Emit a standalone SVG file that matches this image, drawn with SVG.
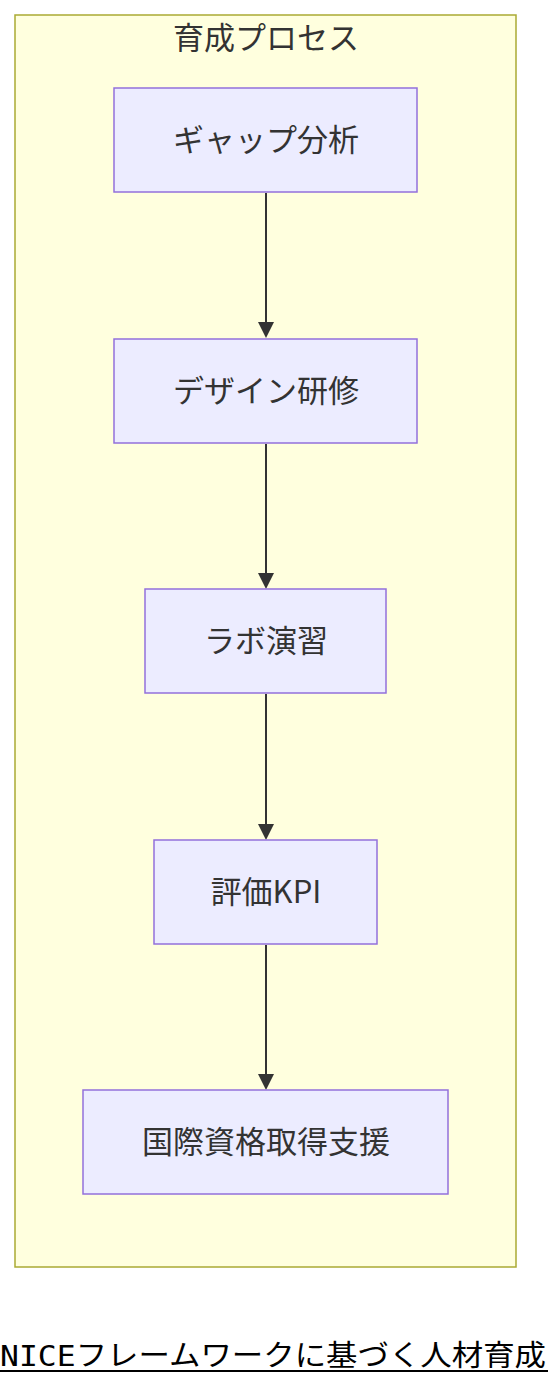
<svg xmlns="http://www.w3.org/2000/svg" width="548" height="1386" viewBox="0 0 548 1386">
<style>
.cl{fill:#ffffde;stroke:#aaaa33;stroke-width:1.5}
.nd{fill:#ececff;stroke:#9370db;stroke-width:1.5}
.t{font-family:"Noto Sans CJK JP","Noto Sans",sans-serif;font-size:31px;fill:#333;text-anchor:middle;dominant-baseline:central}
.e{stroke:#333;stroke-width:2;fill:none}
.ah{fill:#333}
</style>
<rect width="548" height="1386" fill="#fff"/>
<g id="cluster">
<rect class="cl" x="15" y="15" width="501" height="1252"/>
<text class="t" x="266" y="35">育成プロセス</text>
</g>
<g id="edges">
<path class="e" d="M266,193V322"/>
<path class="ah" d="M258,322H274L266,338z"/>
<path class="e" d="M266,444V573"/>
<path class="ah" d="M258,573H274L266,589z"/>
<path class="e" d="M266,694V824"/>
<path class="ah" d="M258,824H274L266,840z"/>
<path class="e" d="M266,945V1074"/>
<path class="ah" d="M258,1074H274L266,1090z"/>
</g>
<g id="n1"><rect class="nd" x="114" y="88" width="303" height="104"/><text class="t" x="266" y="137">ギャップ分析</text></g>
<g id="n2"><rect class="nd" x="114" y="339" width="303" height="104"/><text class="t" x="266" y="388">デザイン研修</text></g>
<g id="n3"><rect class="nd" x="145" y="589" width="241" height="104"/><text class="t" x="266" y="638">ラボ演習</text></g>
<g id="n4"><rect class="nd" x="154" y="840" width="223" height="104"/><text class="t" x="266" y="889">評価KPI</text></g>
<g id="n5"><rect class="nd" x="83" y="1090" width="365" height="104"/><text class="t" x="266" y="1139">国際資格取得支援</text></g>
<g id="title">
<text x="0" y="1366" font-family="'DejaVu Sans Mono','Noto Sans CJK JP',monospace" font-size="29" textLength="546" lengthAdjust="spacingAndGlyphs" fill="#000">NICEフレームワークに基づく人材育成</text>
<line x1="0" y1="1371" x2="548" y2="1371" stroke="#000" stroke-width="2"/>
</g>
</svg>
